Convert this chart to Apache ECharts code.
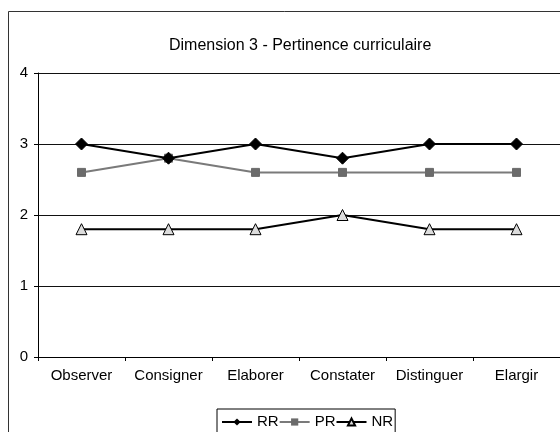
<!DOCTYPE html>
<html>
<head>
<meta charset="utf-8">
<script src="https://cdn.jsdelivr.net/npm/echarts@6/dist/echarts.min.js"></script>
<style>
html,body{margin:0;padding:0;background:#fff;}
#chart{width:560px;height:432px;}
</style>
</head>
<body>
<div id="chart"></div>
<script>
const categories = ["Observer", "Consigner", "Elaborer", "Constater", "Distinguer", "Elargir"];
const seriesNames = ["RR", "PR", "NR"];
const rrValues = [3, 2.8, 3, 2.8, 3, 3];
const prValues = [2.6, 2.8, 2.6, 2.6, 2.6, 2.6];
const nrValues = [1.8, 1.8, 1.8, 2, 1.8, 1.8];
const yTicks = [0, 1, 2, 3, 4];
const titleText = "Dimension 3 - Pertinence curriculaire";

const FONT = "'Liberation Sans', Arial, Helvetica, sans-serif";
const chart = echarts.init(document.getElementById('chart'), null, {renderer: 'canvas'});
chart.setOption({
  animation: false,
  backgroundColor: '#fff',
  textStyle: {fontFamily: FONT},
  graphic: [{
    type: 'rect',
    shape: {x: 8.5, y: 11.5, width: 700, height: 600},
    style: {fill: 'none', stroke: '#333', lineWidth: 1},
    silent: true,
    z: -1
  }],
  title: {
    text: titleText,
    left: 169,
    top: 38,
    padding: 0,
    textStyle: {fontFamily: FONT, fontSize: 16, fontWeight: 'normal', color: '#000'}
  },
  legend: {
    data: seriesNames,
    left: 217,
    top: 409,
    padding: [4, 2, 4, 4],
    itemGap: 0,
    itemWidth: 30,
    itemHeight: 9,
    backgroundColor: '#fff',
    borderColor: '#000',
    borderWidth: 1,
    textStyle: {fontFamily: FONT, fontSize: 15, color: '#000', lineHeight: 18}
  },
  grid: {left: 38, top: 73, width: 524, height: 284, containLabel: false},
  xAxis: {
    type: 'category',
    data: categories,
    boundaryGap: true,
    axisLine: {lineStyle: {color: '#000', width: 1}},
    axisTick: {show: true, length: 4, alignWithLabel: false, lineStyle: {color: '#000'}},
    axisLabel: {fontFamily: FONT, fontSize: 15, color: '#000', margin: 11, interval: 0}
  },
  yAxis: {
    type: 'value',
    min: yTicks[0],
    max: yTicks[yTicks.length - 1],
    interval: 1,
    axisLine: {show: true, lineStyle: {color: '#000', width: 1}},
    axisTick: {show: true, length: 4, lineStyle: {color: '#000'}},
    axisLabel: {fontFamily: FONT, fontSize: 15, color: '#000', margin: 10},
    splitLine: {show: true, lineStyle: {color: '#111', width: 1}}
  },
  series: [
    {
      name: seriesNames[0], type: 'line', data: rrValues,
      symbol: 'diamond', symbolSize: 12,
      lineStyle: {color: '#000', width: 2},
      itemStyle: {color: '#000', borderColor: '#000'},
      z: 4
    },
    {
      name: seriesNames[1], type: 'line', data: prValues,
      symbol: 'rect', symbolSize: 8,
      lineStyle: {color: '#7a7a7a', width: 2},
      itemStyle: {color: '#6b6b6b', borderColor: '#6b6b6b'},
      z: 3
    },
    {
      name: seriesNames[2], type: 'line', data: nrValues,
      symbol: 'triangle', symbolSize: 11,
      lineStyle: {color: '#000', width: 2},
      itemStyle: {color: '#dcdcdc', borderColor: '#000', borderWidth: 1},
      z: 3
    }
  ]
});
</script>
</body>
</html>
